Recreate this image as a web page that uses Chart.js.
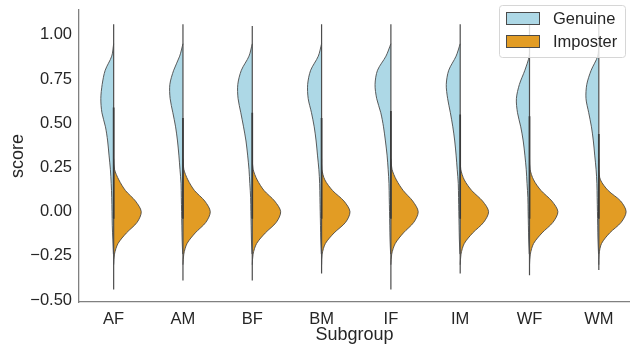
<!DOCTYPE html>
<html>
<head>
<meta charset="utf-8">
<script src="https://cdn.jsdelivr.net/npm/chart.js@4.4.1/dist/chart.umd.min.js"></script>
<style>
  html, body { margin: 0; padding: 0; background: #fff; }
  #wrap { width: 630px; height: 345px; }
</style>
</head>
<body>
<div id="wrap"><canvas id="violins"></canvas></div>
<script>
// Data
var categories = ['AF', 'AM', 'BF', 'BM', 'IF', 'IM', 'WF', 'WM']
var seriesNames = ['Genuine', 'Imposter']
var yTicks = [-0.5, -0.25, 0, 0.25, 0.5, 0.75, 1.0]

// score levels where the half-violin widths were read
var genuineScores = [0.95, 0.88, 0.80, 0.72, 0.64, 0.56, 0.48, 0.40, 0.32, 0.24, 0.16, 0.08, 0.0, -0.08, -0.16, -0.24]
var imposterScores = [0.30, 0.24, 0.18, 0.12, 0.06, 0.0, -0.06, -0.12, -0.18, -0.24, -0.30]

// relative density (imposter peak ~ 100), one row per subgroup
var genuineDensity = [
  [0, 7, 31, 42, 47, 43, 30, 22, 17, 12, 9, 7, 6, 5, 3, 1],
  [0, 12, 34, 48, 47, 37, 27, 20, 15, 11, 7, 6, 5, 4, 3, 1],
  [0, 12, 40, 53, 52, 42, 32, 23, 17, 12, 9, 6, 5, 4, 3, 1],
  [0, 12, 40, 51, 49, 37, 27, 20, 15, 10, 7, 6, 5, 4, 3, 1],
  [0, 18, 49, 58, 52, 37, 27, 20, 14, 10, 7, 6, 5, 4, 3, 1],
  [0, 15, 42, 51, 46, 36, 27, 20, 15, 11, 7, 6, 5, 4, 3, 1],
  [0, 1, 17, 37, 48, 44, 32, 23, 17, 12, 9, 6, 5, 4, 3, 1],
  [0, 4, 28, 44, 47, 37, 27, 20, 15, 10, 7, 6, 5, 4, 3, 1]
]
var imposterDensity = [
  [0, 3, 19, 43, 80, 101, 86, 47, 16, 3, 0],
  [0, 3, 18, 42, 80, 100, 84, 45, 15, 3, 0],
  [0, 3, 18, 43, 82, 104, 88, 48, 16, 3, 0],
  [0, 1, 12, 40, 82, 104, 88, 46, 14, 2, 0],
  [0, 4, 20, 45, 80, 100, 84, 46, 16, 3, 0],
  [0, 2, 15, 42, 82, 104, 86, 46, 15, 3, 0],
  [0, 2, 15, 42, 82, 104, 86, 46, 15, 3, 0],
  [0, 0, 6, 34, 80, 100, 82, 40, 10, 1, 0]
]

// inner box: whiskers and quartiles
var whiskerTop = [1.06, 1.06, 1.05, 1.06, 1.06, 1.06, 1.06, 1.06]
var whiskerBottom = [-0.44, -0.39, -0.39, -0.35, -0.44, -0.35, -0.36, -0.33]
var boxTop = [0.59, 0.53, 0.56, 0.53, 0.57, 0.55, 0.54, 0.44]
var boxBottom = [-0.04, -0.04, -0.04, -0.04, -0.04, -0.04, -0.04, -0.04]

var colors = ['#add8e6', '#e29c24']
var edge = '#4a4a4a'
var widthScale = 0.00394  // category units per density unit
var font = "'Liberation Sans', Arial, sans-serif"

// Build datasets
var datasets = []
for (let i = 0; i < categories.length; i++) {
    datasets.push({
        label: seriesNames[0],
        data: genuineScores.map((s, k) => ({x: i - genuineDensity[i][k] * widthScale, y: s})),
        backgroundColor: colors[0],
        borderColor: edge,
        borderWidth: 0.9,
        fill: 'shape',
        tension: 0.3,
        pointRadius: 0,
        order: 2
    })
    datasets.push({
        label: seriesNames[1],
        data: imposterScores.map((s, k) => ({x: i + imposterDensity[i][k] * widthScale, y: s})),
        backgroundColor: colors[1],
        borderColor: edge,
        borderWidth: 0.9,
        fill: 'shape',
        tension: 0.3,
        pointRadius: 0,
        order: 2
    })
    datasets.push({
        label: 'whisker',
        data: [{x: i, y: whiskerTop[i]}, {x: i, y: whiskerBottom[i]}],
        borderColor: '#4d4d4d',
        borderWidth: 1.2,
        pointRadius: 0,
        fill: false,
        order: 1
    })
    datasets.push({
        label: 'box',
        data: [{x: i, y: boxTop[i]}, {x: i, y: boxBottom[i]}],
        borderColor: '#3a3a3a',
        borderWidth: 1.7,
        pointRadius: 0,
        fill: false,
        order: 0
    })
}

// legend drawn in the upper right, over the plot
var legendBox = {
    id: 'legendBox',
    afterDraw(chart) {
        var ctx = chart.ctx
        ctx.save()
        ctx.beginPath()
        ctx.roundRect(499.5, 5.5, 126, 52, 3)
        ctx.fillStyle = 'rgba(255,255,255,0.8)'
        ctx.fill()
        ctx.strokeStyle = '#d6d6d6'
        ctx.lineWidth = 1
        ctx.stroke()
        ctx.font = '16.5px ' + font
        ctx.textBaseline = 'middle'
        for (let k = 0; k < seriesNames.length; k++) {
            var y = 12.5 + k * 23
            ctx.fillStyle = colors[k]
            ctx.fillRect(506.5, y, 33, 12)
            ctx.strokeStyle = edge
            ctx.strokeRect(506.5, y, 33, 12)
            ctx.fillStyle = '#262626'
            ctx.fillText(seriesNames[k], 553, y + 6.5)
        }
        ctx.restore()
    }
}

var ctx = document.getElementById('violins').getContext('2d')
var myChart = new Chart(ctx, {
    type: 'scatter',
    data: {datasets: datasets},
    options: {
        responsive: true,
        maintainAspectRatio: false,
        animation: false,
        showLine: true,
        layout: {padding: {top: 10, right: 0, left: 0, bottom: 0}},
        plugins: {
            legend: {display: false},
            tooltip: {enabled: false}
        },
        scales: {
            x: {
                type: 'linear',
                min: -0.5,
                max: 7.45,
                grid: {display: false, drawTicks: false},
                border: {display: true, color: '#808080', width: 1.3},
                afterBuildTicks: (scale) => { scale.ticks = categories.map((c, i) => ({value: i})) },
                afterFit: (scale) => { scale.height = 43; scale.paddingLeft = 0; scale.paddingRight = 0 },
                ticks: {
                    padding: 8,
                    color: '#262626',
                    font: {family: font, size: 16.5},
                    callback: (v) => categories[v]
                },
                title: {
                    display: true,
                    text: 'Subgroup',
                    color: '#262626',
                    font: {family: font, size: 18},
                    padding: {top: 0, bottom: -1}
                }
            },
            y: {
                min: -0.511,
                max: 1.141,
                grid: {display: false, drawTicks: false},
                border: {display: true, color: '#808080', width: 1.3},
                afterBuildTicks: (scale) => { scale.ticks = yTicks.map(v => ({value: v})) },
                afterFit: (scale) => { scale.width = 79; scale.paddingTop = 0; scale.paddingBottom = 0 },
                ticks: {
                    padding: 7,
                    color: '#262626',
                    font: {family: font, size: 16.5},
                    callback: (v) => v.toFixed(2).replace('-', '\u2212')
                },
                title: {
                    display: true,
                    text: 'score',
                    color: '#262626',
                    font: {family: font, size: 18},
                    padding: {top: 7, bottom: 0}
                }
            }
        }
    },
    plugins: [legendBox]
});
</script>
</body>
</html>
